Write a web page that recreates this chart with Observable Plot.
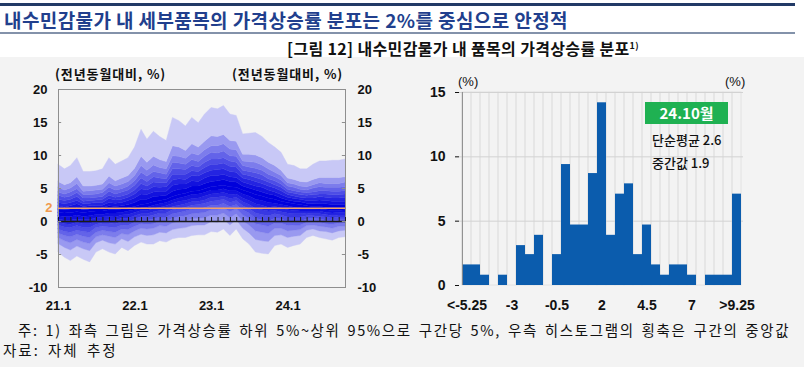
<!DOCTYPE html>
<html><head><meta charset="utf-8">
<script src="https://cdn.jsdelivr.net/npm/d3@7"></script>
<script src="https://cdn.jsdelivr.net/npm/@observablehq/plot@0.6"></script>
<style>
html,body{margin:0;padding:0}
body{width:804px;height:367px;position:relative;overflow:hidden;background:#f3f3f3;font-family:"Noto Sans CJK KR","Noto Sans",sans-serif;color:#111}
.abs{position:absolute;white-space:nowrap}
#left,#right{position:absolute;top:55px}
#left{left:0}
#right{left:400px}
</style></head><body>
<div class="abs" style="left:0;top:0;width:804px;height:57px;background:#ffffff"></div>
<div class="abs" style="left:0;top:3px;width:795px;height:3px;background:#223a66"></div>
<div class="abs" style="left:4px;top:8px;line-height:24px;font-size:19px;font-weight:bold;letter-spacing:0.4px;color:#213f8d">내수민감물가 내 세부품목의 가격상승률 분포는 2%를 중심으로 안정적</div>
<div class="abs" style="left:0;top:32px;width:795px;height:2px;background:#8392aa"></div>
<div class="abs" style="left:287px;top:36px;line-height:20px;font-size:16px;font-weight:bold;letter-spacing:0.35px;color:#111">[그림 12] 내수민감물가 내 품목의 가격상승률 분포<sup style="font-size:9px">1)</sup></div>
<div id="left"></div>
<div id="right"></div>
<div class="abs" style="left:55px;top:65px;line-height:18px;font-size:13px;font-weight:bold;letter-spacing:0.9px">(전년동월대비, %)</div>
<div class="abs" style="left:232px;top:65px;line-height:18px;font-size:13px;font-weight:bold;letter-spacing:0.9px">(전년동월대비, %)</div>
<div class="abs" style="left:458px;top:73px;line-height:18px;font-size:13px;font-family:'Liberation Sans',sans-serif">(%)</div>
<div class="abs" style="left:725px;top:73px;line-height:18px;font-size:13px;font-family:'Liberation Sans',sans-serif">(%)</div>
<div class="abs" style="left:645px;top:102px;width:83px;height:22px;background:#1fb152;color:#fff;font-size:15px;font-weight:bold;line-height:22px;text-align:center">24.10월</div>
<div class="abs" style="left:652px;top:131px;line-height:18px;font-size:13px;font-weight:500">단순평균 2.6</div>
<div class="abs" style="left:652px;top:154px;line-height:18px;font-size:13px;font-weight:500">중간값 1.9</div>
<div class="abs" style="left:18px;top:320px;line-height:20px;font-size:14.5px;letter-spacing:1.65px;word-spacing:2px">주: 1) 좌측 그림은 가격상승률 하위 5%~상위 95%으로 구간당 5%, 우측 히스토그램의 횡축은 구간의 중앙값</div>
<div class="abs" style="left:3px;top:340px;line-height:20px;font-size:14.5px;letter-spacing:2px;word-spacing:3px">자료: 자체 추정</div>
<script>
// ---- Left chart: distribution of item price growth (percentiles 5%..95%), 2021.1 ~ 2024.10
const months = d3.utcMonth.range(new Date(Date.UTC(2021,0,1)), new Date(Date.UTC(2024,10,1)));
const p05 = [-4.7,-5.5,-6.0,-5.3,-5.8,-6.2,-4.7,-4.2,-4.7,-5.0,-4.0,-4.5,-3.7,-3.2,-3.5,-3.5,-3.0,-3.2,-2.7,-2.5,-2.5,-2.2,-2.1,-2.1,-1.6,-1.7,-1.2,-2.2,-1.2,-2.7,-3.5,-4.7,-4.9,-5.0,-3.7,-3.5,-4.0,-3.7,-3.5,-2.5,-2.2,-2.5,-2.7,-2.9,-2.5,-2.4];
const p10 = [-3.4,-4.0,-4.4,-3.8,-4.2,-4.5,-3.3,-2.9,-3.3,-3.5,-2.7,-3.1,-2.4,-2.0,-2.2,-2.1,-1.7,-1.8,-1.3,-1.1,-1.0,-0.7,-0.6,-0.6,-0.1,-0.2,0.3,-0.6,0.2,-1.1,-1.8,-2.8,-3.0,-3.1,-2.2,-2.1,-2.5,-2.3,-2.2,-1.4,-1.2,-1.5,-1.6,-1.8,-1.5,-1.4];
const p15 = [-2.5,-3.0,-3.3,-2.8,-3.2,-3.4,-2.4,-2.1,-2.3,-2.5,-1.9,-2.1,-1.5,-1.1,-1.2,-1.1,-0.7,-0.8,-0.3,-0.1,0.0,0.3,0.4,0.5,0.9,0.9,1.2,0.5,1.1,0.0,-0.6,-1.5,-1.7,-1.9,-1.1,-1.1,-1.5,-1.4,-1.3,-0.7,-0.6,-0.8,-0.9,-1.1,-0.8,-0.8];
const p20 = [-1.8,-2.2,-2.4,-2.0,-2.3,-2.5,-1.7,-1.4,-1.6,-1.7,-1.2,-1.3,-0.8,-0.4,-0.5,-0.4,0.0,0.0,0.4,0.7,0.8,1.1,1.2,1.3,1.7,1.7,2.0,1.4,1.9,0.9,0.4,-0.4,-0.6,-0.8,-0.3,-0.3,-0.7,-0.6,-0.6,-0.2,0.0,-0.2,-0.4,-0.5,-0.3,-0.2];
const p25 = [-1.2,-1.6,-1.7,-1.4,-1.6,-1.7,-1.0,-0.8,-0.9,-1.0,-0.6,-0.7,-0.2,0.2,0.1,0.3,0.6,0.6,1.1,1.3,1.5,1.8,1.9,2.0,2.4,2.4,2.7,2.2,2.5,1.7,1.2,0.4,0.2,0.0,0.4,0.3,0.0,0.0,0.0,0.3,0.4,0.3,0.1,0.0,0.2,0.2];
const p30 = [-0.6,-0.9,-1.0,-0.7,-1.0,-1.0,-0.5,-0.3,-0.3,-0.4,-0.1,-0.1,0.3,0.7,0.7,0.9,1.2,1.2,1.7,1.9,2.1,2.4,2.5,2.7,3.0,3.1,3.3,2.8,3.1,2.3,1.9,1.2,1.0,0.8,1.1,0.9,0.6,0.6,0.6,0.8,0.8,0.7,0.6,0.4,0.6,0.6];
const p35 = [-0.1,-0.4,-0.5,-0.2,-0.4,-0.4,0.0,0.1,0.2,0.1,0.4,0.4,0.8,1.1,1.1,1.4,1.6,1.7,2.2,2.4,2.6,2.9,3.0,3.2,3.6,3.6,3.8,3.4,3.6,2.9,2.5,1.9,1.7,1.5,1.6,1.4,1.2,1.1,1.1,1.2,1.1,1.1,1.0,0.8,0.9,0.9];
const p40 = [0.3,0.1,0.1,0.3,0.2,0.2,0.5,0.6,0.7,0.6,0.9,1.0,1.3,1.6,1.6,1.9,2.1,2.3,2.7,3.0,3.1,3.4,3.5,3.8,4.1,4.2,4.3,4.0,4.1,3.5,3.1,2.6,2.4,2.1,2.2,2.0,1.7,1.6,1.5,1.5,1.5,1.5,1.3,1.2,1.3,1.3];
const p45 = [0.8,0.7,0.7,0.9,0.7,0.8,1.0,1.0,1.2,1.2,1.3,1.5,1.7,2.0,2.1,2.4,2.6,2.8,3.2,3.5,3.7,4.0,4.1,4.3,4.7,4.7,4.9,4.6,4.6,4.1,3.8,3.3,3.1,2.8,2.7,2.5,2.3,2.1,2.0,1.9,1.9,1.8,1.7,1.6,1.6,1.7];
const p50 = [1.3,1.2,1.3,1.4,1.3,1.4,1.5,1.5,1.7,1.7,1.8,2.0,2.2,2.5,2.6,2.9,3.1,3.3,3.7,4.0,4.2,4.5,4.6,4.9,5.2,5.3,5.4,5.2,5.1,4.7,4.4,4.0,3.8,3.5,3.3,3.0,2.8,2.6,2.5,2.3,2.2,2.2,2.1,2.0,2.0,2.0];
const p55 = [1.8,1.7,1.8,2.0,1.7,1.8,1.9,2.0,2.3,2.2,2.3,2.5,2.8,3.3,3.3,3.7,3.8,3.9,4.5,4.8,4.9,5.3,5.3,5.7,6.0,6.1,6.3,6.0,5.9,5.3,5.0,4.7,4.4,4.1,3.9,3.5,3.2,3.0,2.9,2.7,2.6,2.7,2.6,2.5,2.5,2.5];
const p60 = [2.3,2.1,2.3,2.6,2.2,2.3,2.4,2.4,2.8,2.7,2.8,3.1,3.5,4.1,4.0,4.4,4.5,4.5,5.4,5.6,5.6,6.1,6.0,6.5,6.9,6.9,7.1,6.7,6.6,5.9,5.6,5.3,5.1,4.7,4.4,4.0,3.6,3.4,3.3,3.1,3.1,3.2,3.1,3.0,3.0,3.0];
const p65 = [2.8,2.6,2.8,3.1,2.6,2.7,2.8,2.8,3.4,3.2,3.3,3.6,4.1,4.9,4.7,5.2,5.1,5.2,6.2,6.4,6.3,6.9,6.8,7.3,7.7,7.8,7.9,7.5,7.4,6.5,6.3,6.0,5.7,5.3,5.0,4.6,4.0,3.8,3.6,3.5,3.5,3.7,3.6,3.5,3.5,3.6];
const p70 = [3.3,3.1,3.3,3.7,3.0,3.1,3.2,3.3,3.9,3.6,3.8,4.1,4.7,5.7,5.3,5.9,5.8,5.8,7.1,7.1,7.1,7.6,7.5,8.1,8.6,8.6,8.8,8.3,8.2,7.1,6.9,6.6,6.3,5.9,5.5,5.1,4.4,4.2,4.0,3.9,4.0,4.1,4.1,4.0,4.0,4.1];
const p75 = [3.9,3.6,3.8,4.3,3.5,3.5,3.6,3.7,4.5,4.1,4.4,4.7,5.4,6.5,6.0,6.7,6.5,6.4,7.9,7.9,7.8,8.4,8.2,8.9,9.4,9.4,9.6,9.1,8.9,7.7,7.5,7.3,7.0,6.4,6.1,5.6,4.8,4.6,4.4,4.3,4.4,4.6,4.6,4.5,4.5,4.6];
const p80 = [4.4,4.1,4.4,4.9,4.0,4.0,4.1,4.3,5.1,4.7,4.9,5.3,6.1,7.4,6.8,7.5,7.3,7.1,8.9,8.8,8.6,9.3,9.0,9.8,10.4,10.3,10.6,9.9,9.8,8.4,8.2,8.0,7.7,7.1,6.7,6.2,5.3,5.1,4.8,4.7,5.0,5.2,5.1,5.1,5.1,5.2];
const p85 = [5.1,4.7,5.0,5.7,4.5,4.6,4.7,4.8,5.8,5.3,5.6,6.0,6.9,8.4,7.7,8.5,8.1,7.9,9.9,9.8,9.5,10.3,10.0,10.8,11.4,11.4,11.7,10.9,10.8,9.1,9.0,8.9,8.5,7.9,7.4,6.9,5.8,5.6,5.3,5.2,5.5,5.8,5.7,5.7,5.7,5.9];
const p90 = [6.0,5.5,5.8,6.7,5.3,5.3,5.4,5.6,6.8,6.1,6.5,6.9,8.0,9.8,8.9,9.8,9.3,9.0,11.4,11.2,10.7,11.7,11.2,12.1,12.9,12.8,13.1,12.2,12.1,10.1,10.1,10.0,9.6,8.9,8.4,7.7,6.5,6.3,6.0,5.9,6.3,6.6,6.6,6.6,6.6,6.7];
const p95 = [8.6,7.9,8.4,9.6,7.5,7.5,7.6,7.9,9.6,8.6,9.1,9.6,11.2,13.9,12.4,13.6,12.8,12.2,15.7,15.2,14.4,15.7,14.9,16.2,17.2,17.0,17.5,16.2,16.0,13.2,13.3,13.4,12.8,11.9,11.2,10.4,8.6,8.4,7.9,7.9,8.6,9.1,9.1,9.2,9.2,9.4];
const targetLine = [2];
const leftYTicks = [-10,-5,0,5,10,15,20];
const leftXTickDates = [new Date(Date.UTC(2021,0,1)), new Date(Date.UTC(2022,0,1)), new Date(Date.UTC(2023,0,1)), new Date(Date.UTC(2024,0,1))];
const leftXTickText = ["21.1","22.1","23.1","24.1"];

// ---- Right chart: histogram of 24.10 (share of items, %)
const binLabels = ["<-5.25","-5","-4.5","-4","-3.5","-3","-2.5","-2","-1.5","-1","-0.5","0","0.5","1","1.5","2","2.5","3","3.5","4","4.5","5","5.5","6","6.5","7","7.5","8","8.5","9",">9.25"];
const shares = [1.6,1.6,0.8,0,0.8,0,3.1,2.4,3.9,0,2.4,9.4,4.7,4.7,8.7,14.2,3.9,7.1,7.9,2.4,4.7,1.6,0.8,1.6,1.6,0.8,0,0.8,0.8,0.8,7.1];
const histXTicks = ["<-5.25","-3","-0.5","2","4.5","7",">9.25"];
const histYTicks = [0,5,10,15];

const pct = [p05,p10,p15,p20,p25,p30,p35,p40,p45,p50,p55,p60,p65,p70,p75,p80,p85,p90,p95];
const fanColor = d3.interpolateRgb("#c8c8f6", "#0000dc");
const bandMarks = [];
for (let k = 0; k < pct.length - 1; k++) {
  const lvl = Math.min(k, pct.length - 2 - k);
  const c = fanColor(Math.pow(lvl / 8, 0.7));
  const lo = pct[k], hi = pct[k + 1];
  bandMarks.push(Plot.areaY(months, {x: d => d, y1: (d, i) => lo[i], y2: (d, i) => hi[i], fill: c, stroke: c, strokeWidth: 0.4}));
}
const first = months[0], last = months[months.length - 1];
const tickLen = 15; // days, for the short inner tick marks

const leftChart = Plot.plot({
  width: 400, height: 265,
  marginLeft: 58, marginRight: 55, marginTop: 34, marginBottom: 33,
  style: {background: "transparent", fontFamily: "'Liberation Sans', Arial, sans-serif", fontSize: "13px", fontWeight: "bold", color: "#111"},
  x: {type: "utc", domain: [first, last], ticks: leftXTickDates, tickFormat: d => leftXTickText[leftXTickDates.findIndex(t => +t === +d)], tickSize: 0, tickPadding: 13, label: null},
  y: {domain: [-10, 20], axis: null},
  marks: [
    ...bandMarks,
    Plot.frame({stroke: "#8e8e8e"}),
    Plot.ruleY(targetLine, {y: d => d, stroke: "#f2a46a", strokeWidth: 1.5}),
    Plot.ruleY([0], {stroke: "#1a1a1a", strokeWidth: 1.5}),
    Plot.ruleX(months, {x: d => d, y1: 0, y2: 0.6, stroke: "#1a1a1a", strokeWidth: 1}),
    Plot.ruleY(leftYTicks, {y: d => d, x1: () => first, x2: () => d3.utcDay.offset(first, tickLen), stroke: "#8e8e8e"}),
    Plot.ruleY(leftYTicks, {y: d => d, x1: () => d3.utcDay.offset(last, -tickLen), x2: () => last, stroke: "#8e8e8e"}),
    Plot.text(leftYTicks, {x: () => first, y: d => d, text: d => String(d), textAnchor: "end", dx: -11, fill: "#111"}),
    Plot.text(leftYTicks, {x: () => last, y: d => d, text: d => String(d), textAnchor: "start", dx: 12, fill: "#111"}),
    Plot.text(targetLine, {x: () => first, y: d => d, text: d => String(d), textAnchor: "end", dx: -6, fill: "#f09a4e"})
  ]
});
document.getElementById("left").appendChild(leftChart);

const rightChart = Plot.plot({
  width: 404, height: 265,
  marginLeft: 59, marginRight: 61, marginTop: 37, marginBottom: 35,
  style: {background: "transparent", fontFamily: "'Liberation Sans', Arial, sans-serif", fontSize: "14px", fontWeight: "bold", color: "#111"},
  x: {type: "band", domain: binLabels, padding: 0, ticks: histXTicks, tickSize: 0, tickPadding: 15, label: null},
  y: {domain: [0, 15], ticks: histYTicks, tickSize: 4, tickPadding: 10, label: null},
  marks: [
    Plot.barY(binLabels, {x: d => d, y1: 0, y2: 15, fill: "none", stroke: "#e2e2e2"}),
    Plot.ruleY([5, 10, 15], {stroke: "#d2d2d2"}),
    Plot.barY(binLabels, {x: d => d, y: (d, i) => shares[i], fill: "#0b5cad"}),
    Plot.ruleX([binLabels[0]], {x: d => d, dx: -284 / 31 / 2, y1: 0, y2: 15, stroke: "#8a8a8a"})
  ]
});
document.getElementById("right").appendChild(rightChart);
</script>
</body></html>
